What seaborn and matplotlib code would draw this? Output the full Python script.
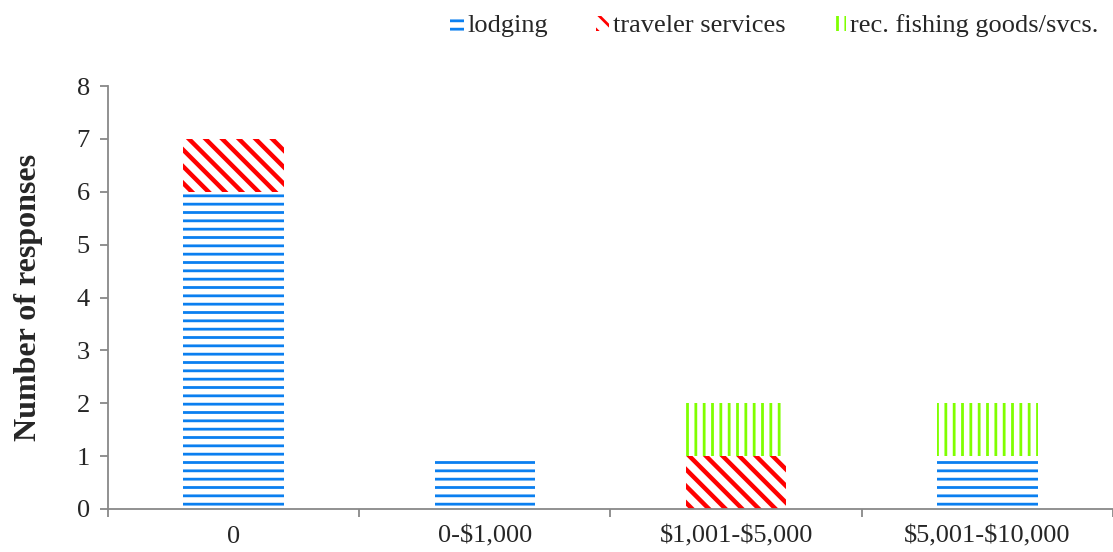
import matplotlib
matplotlib.use("Agg")
import matplotlib.pyplot as plt
import matplotlib.patches as mpatches
from matplotlib.ticker import FixedLocator
import seaborn as sns
import numpy as np

categories = ["0", "0-$1,000", "$1,001-$5,000", "$5,001-$10,000"]
lodging = [6, 1, 0, 1]
traveler = [1, 0, 1, 0]
fishing = [0, 0, 1, 1]

# name, values, colour, hatch, hatch line width
series = [
    ("lodging", lodging, "#0A7FF0", "--", 2.0),
    ("traveler services", traveler, "#FF0000", "\\\\", 3.2),
    ("rec. fishing goods/svcs.", fishing, "#7FFF00", "||", 2.0),
]

sns.set_style("white")
plt.rcParams["font.family"] = ["Liberation Serif", "DejaVu Serif"]
plt.rcParams["text.parse_math"] = False
plt.rcParams["hatch.linewidth"] = 2.0

fig = plt.figure(figsize=(11.13, 5.52), dpi=100)
ax = fig.add_axes([0.097, 0.078, 0.903, 0.766])


def set_hatch_lw(patch, lw):
    if hasattr(patch, "set_hatch_linewidth"):
        patch.set_hatch_linewidth(lw)


bottom = np.zeros(len(categories))
handles = []
for name, vals, col, hatch, hlw in series:
    n_before = len(ax.patches)
    sns.barplot(x=categories, y=vals, bottom=bottom, color="white",
                edgecolor=col, hatch=hatch, linewidth=0, width=0.4,
                ax=ax, zorder=2)
    for p in ax.patches[n_before:]:
        set_hatch_lw(p, hlw)
    bottom = bottom + np.array(vals)
    h = mpatches.Patch(facecolor="white", edgecolor=col, hatch=hatch,
                       linewidth=0, label=name)
    set_hatch_lw(h, hlw)
    handles.append(h)

ax.set_xlim(-0.5, len(categories) - 0.5)
ax.set_ylim(0, 8)
ax.set_yticks(range(0, 9))
ax.set_ylabel("Number of responses", fontsize=23, fontweight="bold", labelpad=24)
ax.set_xlabel("")

for s in ["top", "right"]:
    ax.spines[s].set_visible(False)
for s in ["left", "bottom"]:
    ax.spines[s].set_color("#888888")
    ax.spines[s].set_linewidth(1.3)

ax.tick_params(axis="y", direction="out", length=6, width=1.3, color="#888888",
               labelsize=19, left=True, pad=7)
ax.tick_params(axis="x", which="major", length=0, labelsize=19, pad=12)
ax.xaxis.set_minor_locator(FixedLocator(np.arange(-0.5, len(categories), 1.0)))
ax.tick_params(axis="x", which="minor", direction="out", length=6, width=1.3,
               color="#888888", bottom=True)

fig.legend(handles=handles, loc="upper right", bbox_to_anchor=(1.0, 1.0),
           ncol=3, frameon=False, fontsize=19, handlelength=0.5,
           handleheight=0.5, handletextpad=0.15, columnspacing=1.8,
           borderaxespad=0.15)

fig.savefig("out.png", dpi=100)
